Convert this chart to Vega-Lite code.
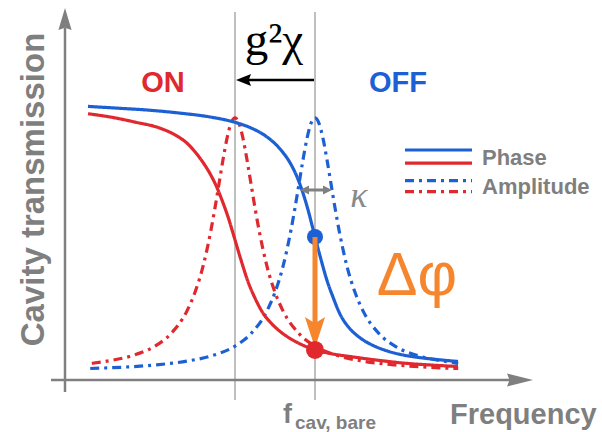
{
"$schema": "https://vega.github.io/schema/vega-lite/v6.json",
"width": 602, "height": 432,
"autosize": {"type": "none"},
"padding": 0,
"background": "white",
"config": {"view": {"stroke": null}},
"data": {"values": [{}]},
"datasets": {
"guides": [{"f": -1}, {"f": 0}],
"curves": [
{"state":"OFF","kind":"Phase","f":-2.8375,"T":0.855},
{"state":"OFF","kind":"Phase","f":-2.4375,"T":0.849},
{"state":"OFF","kind":"Phase","f":-2.0625,"T":0.843},
{"state":"OFF","kind":"Phase","f":-1.6875,"T":0.834},
{"state":"OFF","kind":"Phase","f":-1.3125,"T":0.822},
{"state":"OFF","kind":"Phase","f":-1.025,"T":0.807},
{"state":"OFF","kind":"Phase","f":-0.8125,"T":0.789},
{"state":"OFF","kind":"Phase","f":-0.625,"T":0.764},
{"state":"OFF","kind":"Phase","f":-0.4375,"T":0.722},
{"state":"OFF","kind":"Phase","f":-0.3125,"T":0.679},
{"state":"OFF","kind":"Phase","f":-0.225,"T":0.635},
{"state":"OFF","kind":"Phase","f":-0.15,"T":0.584},
{"state":"OFF","kind":"Phase","f":-0.0875,"T":0.532},
{"state":"OFF","kind":"Phase","f":-0.0375,"T":0.484},
{"state":"OFF","kind":"Phase","f":0,"T":0.447},
{"state":"OFF","kind":"Phase","f":0.0625,"T":0.388},
{"state":"OFF","kind":"Phase","f":0.15,"T":0.311},
{"state":"OFF","kind":"Phase","f":0.225,"T":0.259},
{"state":"OFF","kind":"Phase","f":0.3125,"T":0.206},
{"state":"OFF","kind":"Phase","f":0.4375,"T":0.16},
{"state":"OFF","kind":"Phase","f":0.5625,"T":0.132},
{"state":"OFF","kind":"Phase","f":0.725,"T":0.108},
{"state":"OFF","kind":"Phase","f":0.9,"T":0.091},
{"state":"OFF","kind":"Phase","f":1.125,"T":0.077},
{"state":"OFF","kind":"Phase","f":1.3125,"T":0.07},
{"state":"OFF","kind":"Phase","f":1.5625,"T":0.063},
{"state":"OFF","kind":"Phase","f":1.7875,"T":0.058},
{"state":"ON","kind":"Phase","f":-2.8375,"T":0.832},
{"state":"ON","kind":"Phase","f":-2.5625,"T":0.822},
{"state":"ON","kind":"Phase","f":-2.25,"T":0.806},
{"state":"ON","kind":"Phase","f":-1.9375,"T":0.787},
{"state":"ON","kind":"Phase","f":-1.75,"T":0.766},
{"state":"ON","kind":"Phase","f":-1.6,"T":0.74},
{"state":"ON","kind":"Phase","f":-1.5,"T":0.713},
{"state":"ON","kind":"Phase","f":-1.4,"T":0.68},
{"state":"ON","kind":"Phase","f":-1.3125,"T":0.645},
{"state":"ON","kind":"Phase","f":-1.2375,"T":0.608},
{"state":"ON","kind":"Phase","f":-1.1625,"T":0.562},
{"state":"ON","kind":"Phase","f":-1.0875,"T":0.51},
{"state":"ON","kind":"Phase","f":-1.025,"T":0.459},
{"state":"ON","kind":"Phase","f":-0.9625,"T":0.406},
{"state":"ON","kind":"Phase","f":-0.9,"T":0.355},
{"state":"ON","kind":"Phase","f":-0.85,"T":0.316},
{"state":"ON","kind":"Phase","f":-0.75,"T":0.256},
{"state":"ON","kind":"Phase","f":-0.65,"T":0.209},
{"state":"ON","kind":"Phase","f":-0.5375,"T":0.175},
{"state":"ON","kind":"Phase","f":-0.4375,"T":0.152},
{"state":"ON","kind":"Phase","f":-0.3125,"T":0.13},
{"state":"ON","kind":"Phase","f":-0.1875,"T":0.113},
{"state":"ON","kind":"Phase","f":0,"T":0.094},
{"state":"ON","kind":"Phase","f":0.1875,"T":0.083},
{"state":"ON","kind":"Phase","f":0.475,"T":0.072},
{"state":"ON","kind":"Phase","f":0.8125,"T":0.061},
{"state":"ON","kind":"Phase","f":1.1,"T":0.053},
{"state":"ON","kind":"Phase","f":1.4375,"T":0.047},
{"state":"ON","kind":"Phase","f":1.7875,"T":0.042},
{"state":"OFF","kind":"Amplitude","f":-2.81,"T":0.036},
{"state":"OFF","kind":"Amplitude","f":-2.4,"T":0.04},
{"state":"OFF","kind":"Amplitude","f":-2.0,"T":0.047},
{"state":"OFF","kind":"Amplitude","f":-1.6,"T":0.059},
{"state":"OFF","kind":"Amplitude","f":-1.3,"T":0.075},
{"state":"OFF","kind":"Amplitude","f":-1.0,"T":0.106},
{"state":"OFF","kind":"Amplitude","f":-0.8,"T":0.145},
{"state":"OFF","kind":"Amplitude","f":-0.6,"T":0.216},
{"state":"OFF","kind":"Amplitude","f":-0.5,"T":0.274},
{"state":"OFF","kind":"Amplitude","f":-0.4,"T":0.355},
{"state":"OFF","kind":"Amplitude","f":-0.3,"T":0.469},
{"state":"OFF","kind":"Amplitude","f":-0.25,"T":0.538},
{"state":"OFF","kind":"Amplitude","f":-0.2,"T":0.613},
{"state":"OFF","kind":"Amplitude","f":-0.15,"T":0.688},
{"state":"OFF","kind":"Amplitude","f":-0.1,"T":0.755},
{"state":"OFF","kind":"Amplitude","f":-0.05,"T":0.802},
{"state":"OFF","kind":"Amplitude","f":0,"T":0.819},
{"state":"OFF","kind":"Amplitude","f":0.05,"T":0.802},
{"state":"OFF","kind":"Amplitude","f":0.1,"T":0.755},
{"state":"OFF","kind":"Amplitude","f":0.15,"T":0.688},
{"state":"OFF","kind":"Amplitude","f":0.2,"T":0.613},
{"state":"OFF","kind":"Amplitude","f":0.25,"T":0.538},
{"state":"OFF","kind":"Amplitude","f":0.3,"T":0.469},
{"state":"OFF","kind":"Amplitude","f":0.4,"T":0.355},
{"state":"OFF","kind":"Amplitude","f":0.5,"T":0.274},
{"state":"OFF","kind":"Amplitude","f":0.6,"T":0.216},
{"state":"OFF","kind":"Amplitude","f":0.8,"T":0.145},
{"state":"OFF","kind":"Amplitude","f":1.0,"T":0.106},
{"state":"OFF","kind":"Amplitude","f":1.3,"T":0.075},
{"state":"OFF","kind":"Amplitude","f":1.6,"T":0.059},
{"state":"OFF","kind":"Amplitude","f":1.79,"T":0.052},
{"state":"ON","kind":"Amplitude","f":-2.79,"T":0.052},
{"state":"ON","kind":"Amplitude","f":-2.6,"T":0.059},
{"state":"ON","kind":"Amplitude","f":-2.3,"T":0.075},
{"state":"ON","kind":"Amplitude","f":-2.0,"T":0.106},
{"state":"ON","kind":"Amplitude","f":-1.8,"T":0.145},
{"state":"ON","kind":"Amplitude","f":-1.6,"T":0.216},
{"state":"ON","kind":"Amplitude","f":-1.5,"T":0.274},
{"state":"ON","kind":"Amplitude","f":-1.4,"T":0.355},
{"state":"ON","kind":"Amplitude","f":-1.3,"T":0.469},
{"state":"ON","kind":"Amplitude","f":-1.25,"T":0.538},
{"state":"ON","kind":"Amplitude","f":-1.2,"T":0.613},
{"state":"ON","kind":"Amplitude","f":-1.15,"T":0.688},
{"state":"ON","kind":"Amplitude","f":-1.1,"T":0.755},
{"state":"ON","kind":"Amplitude","f":-1.05,"T":0.802},
{"state":"ON","kind":"Amplitude","f":-1.0,"T":0.819},
{"state":"ON","kind":"Amplitude","f":-0.95,"T":0.802},
{"state":"ON","kind":"Amplitude","f":-0.9,"T":0.755},
{"state":"ON","kind":"Amplitude","f":-0.85,"T":0.688},
{"state":"ON","kind":"Amplitude","f":-0.8,"T":0.613},
{"state":"ON","kind":"Amplitude","f":-0.75,"T":0.538},
{"state":"ON","kind":"Amplitude","f":-0.7,"T":0.469},
{"state":"ON","kind":"Amplitude","f":-0.6,"T":0.355},
{"state":"ON","kind":"Amplitude","f":-0.5,"T":0.274},
{"state":"ON","kind":"Amplitude","f":-0.4,"T":0.216},
{"state":"ON","kind":"Amplitude","f":-0.2,"T":0.145},
{"state":"ON","kind":"Amplitude","f":0,"T":0.106},
{"state":"ON","kind":"Amplitude","f":0.3,"T":0.075},
{"state":"ON","kind":"Amplitude","f":0.6,"T":0.059},
{"state":"ON","kind":"Amplitude","f":1.0,"T":0.047},
{"state":"ON","kind":"Amplitude","f":1.4,"T":0.04},
{"state":"ON","kind":"Amplitude","f":1.79,"T":0.036}
]
},
"layer": [
{"data": {"name": "guides"},
 "mark": {"type": "rule", "color": "#b0b0b0", "strokeWidth": 1.6},
 "encoding": {
  "x": {"field": "f", "type": "quantitative", "scale": {"domain": [-3.9375, 3.5875], "nice": false, "zero": false}, "axis": null},
  "y": {"datum": -0.0625, "type": "quantitative", "scale": {"domain": [-0.1625, 1.1875], "nice": false, "zero": false}, "axis": null},
  "y2": {"datum": 1.15}}},
{"mark": {"type": "rule", "color": "#7f7f7f", "strokeWidth": 2.5},
 "encoding": {
  "x": {"datum": -3.125, "type": "quantitative", "scale": {"domain": [-3.9375, 3.5875], "nice": false, "zero": false}, "axis": null},
  "y": {"datum": -0.0375, "type": "quantitative", "scale": {"domain": [-0.1625, 1.1875], "nice": false, "zero": false}, "axis": null},
  "y2": {"datum": 1.1}}},
{"mark": {"type": "rule", "color": "#7f7f7f", "strokeWidth": 2.5},
 "encoding": {
  "x": {"datum": -3.3, "type": "quantitative", "scale": {"domain": [-3.9375, 3.5875], "nice": false, "zero": false}, "axis": null},
  "x2": {"datum": 2.5},
  "y": {"datum": 0, "type": "quantitative", "scale": {"domain": [-0.1625, 1.1875], "nice": false, "zero": false}, "axis": null}}},
{"mark": {"type": "point", "shape": "M0,-1L0.6,1L0,0.8L-0.6,1Z", "filled": true, "opacity": 1, "size": 484, "color": "#7f7f7f", "strokeWidth": 0},
 "encoding": {
  "x": {"datum": -3.125, "type": "quantitative", "scale": {"domain": [-3.9375, 3.5875], "nice": false, "zero": false}, "axis": null},
  "y": {"datum": 1.128, "type": "quantitative", "scale": {"domain": [-0.1625, 1.1875], "nice": false, "zero": false}, "axis": null}}},
{"mark": {"type": "point", "shape": "M1,0L-1,-0.5L-0.8,0L-1,0.5Z", "filled": true, "opacity": 1, "size": 676, "color": "#7f7f7f", "strokeWidth": 0},
 "encoding": {
  "x": {"datum": 2.5625, "type": "quantitative", "scale": {"domain": [-3.9375, 3.5875], "nice": false, "zero": false}, "axis": null},
  "y": {"datum": 0, "type": "quantitative", "scale": {"domain": [-0.1625, 1.1875], "nice": false, "zero": false}, "axis": null}}},
{"data": {"name": "curves"},
 "transform": [{"filter": "datum.kind === 'Amplitude'"}],
 "mark": {"type": "line", "strokeWidth": 3.2, "interpolate": "monotone"},
 "encoding": {
  "x": {"field": "f", "type": "quantitative", "scale": {"domain": [-3.9375, 3.5875], "nice": false, "zero": false}, "axis": null},
  "y": {"field": "T", "type": "quantitative", "scale": {"domain": [-0.1625, 1.1875], "nice": false, "zero": false}, "axis": null},
  "color": {"field": "state", "type": "nominal", "scale": {"domain": ["ON", "OFF"], "range": ["#e0282e", "#1c60d4"]}, "legend": null},
  "strokeDash": {"field": "kind", "type": "nominal", "scale": {"domain": ["Phase", "Amplitude"], "range": [[1, 0], [9, 5, 3, 5]]}, "legend": null}}},
{"data": {"name": "curves"},
 "transform": [{"filter": "datum.kind === 'Phase'"}],
 "mark": {"type": "line", "strokeWidth": 3.2, "interpolate": "monotone"},
 "encoding": {
  "x": {"field": "f", "type": "quantitative", "scale": {"domain": [-3.9375, 3.5875], "nice": false, "zero": false}, "axis": null},
  "y": {"field": "T", "type": "quantitative", "scale": {"domain": [-0.1625, 1.1875], "nice": false, "zero": false}, "axis": null},
  "color": {"field": "state", "type": "nominal", "scale": {"domain": ["ON", "OFF"], "range": ["#e0282e", "#1c60d4"]}, "legend": null},
  "strokeDash": {"field": "kind", "type": "nominal", "scale": {"domain": ["Phase", "Amplitude"], "range": [[1, 0], [9, 5, 3, 5]]}, "legend": null}}},
{"mark": {"type": "rule", "color": "#000000", "strokeWidth": 2.5},
 "encoding": {
  "x": {"datum": -0.875, "type": "quantitative", "scale": {"domain": [-3.9375, 3.5875], "nice": false, "zero": false}, "axis": null},
  "x2": {"datum": -0.0125},
  "y": {"datum": 0.9375, "type": "quantitative", "scale": {"domain": [-0.1625, 1.1875], "nice": false, "zero": false}, "axis": null}}},
{"mark": {"type": "point", "shape": "M-1,0L1,-0.8L0.7,0L1,0.8Z", "filled": true, "opacity": 1, "size": 225, "color": "#000000", "strokeWidth": 0},
 "encoding": {
  "x": {"datum": -0.89375, "type": "quantitative", "scale": {"domain": [-3.9375, 3.5875], "nice": false, "zero": false}, "axis": null},
  "y": {"datum": 0.9375, "type": "quantitative", "scale": {"domain": [-0.1625, 1.1875], "nice": false, "zero": false}, "axis": null}}},
{"mark": {"type": "rule", "color": "#808080", "strokeWidth": 3},
 "encoding": {
  "x": {"datum": -0.14, "type": "quantitative", "scale": {"domain": [-3.9375, 3.5875], "nice": false, "zero": false}, "axis": null},
  "x2": {"datum": 0.165},
  "y": {"datum": 0.59375, "type": "quantitative", "scale": {"domain": [-0.1625, 1.1875], "nice": false, "zero": false}, "axis": null}}},
{"mark": {"type": "point", "shape": "M-1,0L1,-1L1,1Z", "filled": true, "opacity": 1, "size": 81, "color": "#808080", "strokeWidth": 0},
 "encoding": {
  "x": {"datum": -0.13125, "type": "quantitative", "scale": {"domain": [-3.9375, 3.5875], "nice": false, "zero": false}, "axis": null},
  "y": {"datum": 0.59375, "type": "quantitative", "scale": {"domain": [-0.1625, 1.1875], "nice": false, "zero": false}, "axis": null}}},
{"mark": {"type": "point", "shape": "M1,0L-1,-1L-1,1Z", "filled": true, "opacity": 1, "size": 81, "color": "#808080", "strokeWidth": 0},
 "encoding": {
  "x": {"datum": 0.15625, "type": "quantitative", "scale": {"domain": [-3.9375, 3.5875], "nice": false, "zero": false}, "axis": null},
  "y": {"datum": 0.59375, "type": "quantitative", "scale": {"domain": [-0.1625, 1.1875], "nice": false, "zero": false}, "axis": null}}},
{"mark": {"type": "point", "shape": "circle", "filled": true, "opacity": 1, "size": 256, "color": "#1c60d4", "strokeWidth": 0},
 "encoding": {
  "x": {"datum": 0, "type": "quantitative", "scale": {"domain": [-3.9375, 3.5875], "nice": false, "zero": false}, "axis": null},
  "y": {"datum": 0.447, "type": "quantitative", "scale": {"domain": [-0.1625, 1.1875], "nice": false, "zero": false}, "axis": null}}},
{"mark": {"type": "rule", "color": "#f5862e", "strokeWidth": 5},
 "encoding": {
  "x": {"datum": 0, "type": "quantitative", "scale": {"domain": [-3.9375, 3.5875], "nice": false, "zero": false}, "axis": null},
  "y": {"datum": 0.447, "type": "quantitative", "scale": {"domain": [-0.1625, 1.1875], "nice": false, "zero": false}, "axis": null},
  "y2": {"datum": 0.17}}},
{"mark": {"type": "point", "shape": "M0,1L-0.65,-1L0,-0.6L0.65,-1Z", "filled": true, "opacity": 1, "size": 961, "color": "#f5862e", "strokeWidth": 0},
 "encoding": {
  "x": {"datum": 0, "type": "quantitative", "scale": {"domain": [-3.9375, 3.5875], "nice": false, "zero": false}, "axis": null},
  "y": {"datum": 0.1484, "type": "quantitative", "scale": {"domain": [-0.1625, 1.1875], "nice": false, "zero": false}, "axis": null}}},
{"mark": {"type": "point", "shape": "circle", "filled": true, "opacity": 1, "size": 324, "color": "#e0282e", "strokeWidth": 0},
 "encoding": {
  "x": {"datum": 0, "type": "quantitative", "scale": {"domain": [-3.9375, 3.5875], "nice": false, "zero": false}, "axis": null},
  "y": {"datum": 0.094, "type": "quantitative", "scale": {"domain": [-0.1625, 1.1875], "nice": false, "zero": false}, "axis": null}}},
{"mark": {"type": "rule", "color": "#1c60d4", "strokeWidth": 3.2},
 "encoding": {
  "x": {"datum": 1.125, "type": "quantitative", "scale": {"domain": [-3.9375, 3.5875], "nice": false, "zero": false}, "axis": null},
  "x2": {"datum": 1.9625},
  "y": {"datum": 0.71875, "type": "quantitative", "scale": {"domain": [-0.1625, 1.1875], "nice": false, "zero": false}, "axis": null}}},
{"mark": {"type": "rule", "color": "#e0282e", "strokeWidth": 3.2},
 "encoding": {
  "x": {"datum": 1.125, "type": "quantitative", "scale": {"domain": [-3.9375, 3.5875], "nice": false, "zero": false}, "axis": null},
  "x2": {"datum": 1.9625},
  "y": {"datum": 0.678, "type": "quantitative", "scale": {"domain": [-0.1625, 1.1875], "nice": false, "zero": false}, "axis": null}}},
{"mark": {"type": "rule", "color": "#1c60d4", "strokeWidth": 3.2, "strokeDash": [9, 5, 3, 5]},
 "encoding": {
  "x": {"datum": 1.125, "type": "quantitative", "scale": {"domain": [-3.9375, 3.5875], "nice": false, "zero": false}, "axis": null},
  "x2": {"datum": 1.9625},
  "y": {"datum": 0.6228, "type": "quantitative", "scale": {"domain": [-0.1625, 1.1875], "nice": false, "zero": false}, "axis": null}}},
{"mark": {"type": "rule", "color": "#e0282e", "strokeWidth": 3.2, "strokeDash": [9, 5, 3, 5]},
 "encoding": {
  "x": {"datum": 1.125, "type": "quantitative", "scale": {"domain": [-3.9375, 3.5875], "nice": false, "zero": false}, "axis": null},
  "x2": {"datum": 1.9625},
  "y": {"datum": 0.5884, "type": "quantitative", "scale": {"domain": [-0.1625, 1.1875], "nice": false, "zero": false}, "axis": null}}},
{"mark": {"type": "text", "text": "Phase", "font": "Liberation Sans", "fontWeight": "bold", "fontSize": 22, "color": "#7f7f7f", "align": "left", "baseline": "alphabetic"},
 "encoding": {
  "x": {"datum": 2.0875, "type": "quantitative", "scale": {"domain": [-3.9375, 3.5875], "nice": false, "zero": false}, "axis": null},
  "y": {"datum": 0.672, "type": "quantitative", "scale": {"domain": [-0.1625, 1.1875], "nice": false, "zero": false}, "axis": null}}},
{"mark": {"type": "text", "text": "Amplitude", "font": "Liberation Sans", "fontWeight": "bold", "fontSize": 22, "color": "#7f7f7f", "align": "left", "baseline": "alphabetic"},
 "encoding": {
  "x": {"datum": 2.0875, "type": "quantitative", "scale": {"domain": [-3.9375, 3.5875], "nice": false, "zero": false}, "axis": null},
  "y": {"datum": 0.5803, "type": "quantitative", "scale": {"domain": [-0.1625, 1.1875], "nice": false, "zero": false}, "axis": null}}},
{"mark": {"type": "text", "text": "g²χ", "font": "Liberation Serif", "fontSize": 47, "color": "#000000", "align": "center", "baseline": "alphabetic"},
 "encoding": {
  "x": {"datum": -0.5125, "type": "quantitative", "scale": {"domain": [-3.9375, 3.5875], "nice": false, "zero": false}, "axis": null},
  "y": {"datum": 1.0156, "type": "quantitative", "scale": {"domain": [-0.1625, 1.1875], "nice": false, "zero": false}, "axis": null}}},
{"mark": {"type": "text", "text": "ON", "font": "Liberation Sans", "fontWeight": "bold", "fontSize": 29, "color": "#e0282e", "align": "center", "baseline": "alphabetic"},
 "encoding": {
  "x": {"datum": -1.9, "type": "quantitative", "scale": {"domain": [-3.9375, 3.5875], "nice": false, "zero": false}, "axis": null},
  "y": {"datum": 0.901, "type": "quantitative", "scale": {"domain": [-0.1625, 1.1875], "nice": false, "zero": false}, "axis": null}}},
{"mark": {"type": "text", "text": "OFF", "font": "Liberation Sans", "fontWeight": "bold", "fontSize": 29, "color": "#1c60d4", "align": "center", "baseline": "alphabetic"},
 "encoding": {
  "x": {"datum": 1.0375, "type": "quantitative", "scale": {"domain": [-3.9375, 3.5875], "nice": false, "zero": false}, "axis": null},
  "y": {"datum": 0.901, "type": "quantitative", "scale": {"domain": [-0.1625, 1.1875], "nice": false, "zero": false}, "axis": null}}},
{"mark": {"type": "text", "text": "κ", "font": "Liberation Serif", "fontStyle": "italic", "fontSize": 36, "color": "#8a8a8a", "align": "center", "baseline": "alphabetic"},
 "encoding": {
  "x": {"datum": 0.55, "type": "quantitative", "scale": {"domain": [-3.9375, 3.5875], "nice": false, "zero": false}, "axis": null},
  "y": {"datum": 0.5406, "type": "quantitative", "scale": {"domain": [-0.1625, 1.1875], "nice": false, "zero": false}, "axis": null}}},
{"mark": {"type": "text", "text": "Δφ", "font": "Liberation Sans", "fontSize": 61, "color": "#f5862e", "align": "center", "baseline": "alphabetic"},
 "encoding": {
  "x": {"datum": 1.275, "type": "quantitative", "scale": {"domain": [-3.9375, 3.5875], "nice": false, "zero": false}, "axis": null},
  "y": {"datum": 0.2656, "type": "quantitative", "scale": {"domain": [-0.1625, 1.1875], "nice": false, "zero": false}, "axis": null}}},
{"mark": {"type": "text", "text": "Cavity transmission", "font": "Liberation Sans", "fontWeight": "bold", "fontSize": 33, "color": "#7f7f7f", "align": "center", "baseline": "alphabetic", "angle": 270},
 "encoding": {
  "x": {"datum": -3.3875, "type": "quantitative", "scale": {"domain": [-3.9375, 3.5875], "nice": false, "zero": false}, "axis": null},
  "y": {"datum": 0.5953, "type": "quantitative", "scale": {"domain": [-0.1625, 1.1875], "nice": false, "zero": false}, "axis": null}}},
{"mark": {"type": "text", "text": "Frequency", "font": "Liberation Sans", "fontWeight": "bold", "fontSize": 29, "color": "#7f7f7f", "align": "left", "baseline": "alphabetic"},
 "encoding": {
  "x": {"datum": 1.6875, "type": "quantitative", "scale": {"domain": [-3.9375, 3.5875], "nice": false, "zero": false}, "axis": null},
  "y": {"datum": -0.1375, "type": "quantitative", "scale": {"domain": [-0.1625, 1.1875], "nice": false, "zero": false}, "axis": null}}},
{"mark": {"type": "text", "text": "f", "font": "Liberation Sans", "fontWeight": "bold", "fontSize": 27, "color": "#7f7f7f", "align": "left", "baseline": "alphabetic"},
 "encoding": {
  "x": {"datum": -0.4, "type": "quantitative", "scale": {"domain": [-3.9375, 3.5875], "nice": false, "zero": false}, "axis": null},
  "y": {"datum": -0.134, "type": "quantitative", "scale": {"domain": [-0.1625, 1.1875], "nice": false, "zero": false}, "axis": null}}},
{"mark": {"type": "text", "text": "cav, bare", "font": "Liberation Sans", "fontWeight": "bold", "fontSize": 19, "color": "#7f7f7f", "align": "left", "baseline": "alphabetic"},
 "encoding": {
  "x": {"datum": -0.25, "type": "quantitative", "scale": {"domain": [-3.9375, 3.5875], "nice": false, "zero": false}, "axis": null},
  "y": {"datum": -0.1545, "type": "quantitative", "scale": {"domain": [-0.1625, 1.1875], "nice": false, "zero": false}, "axis": null}}}
]
}
